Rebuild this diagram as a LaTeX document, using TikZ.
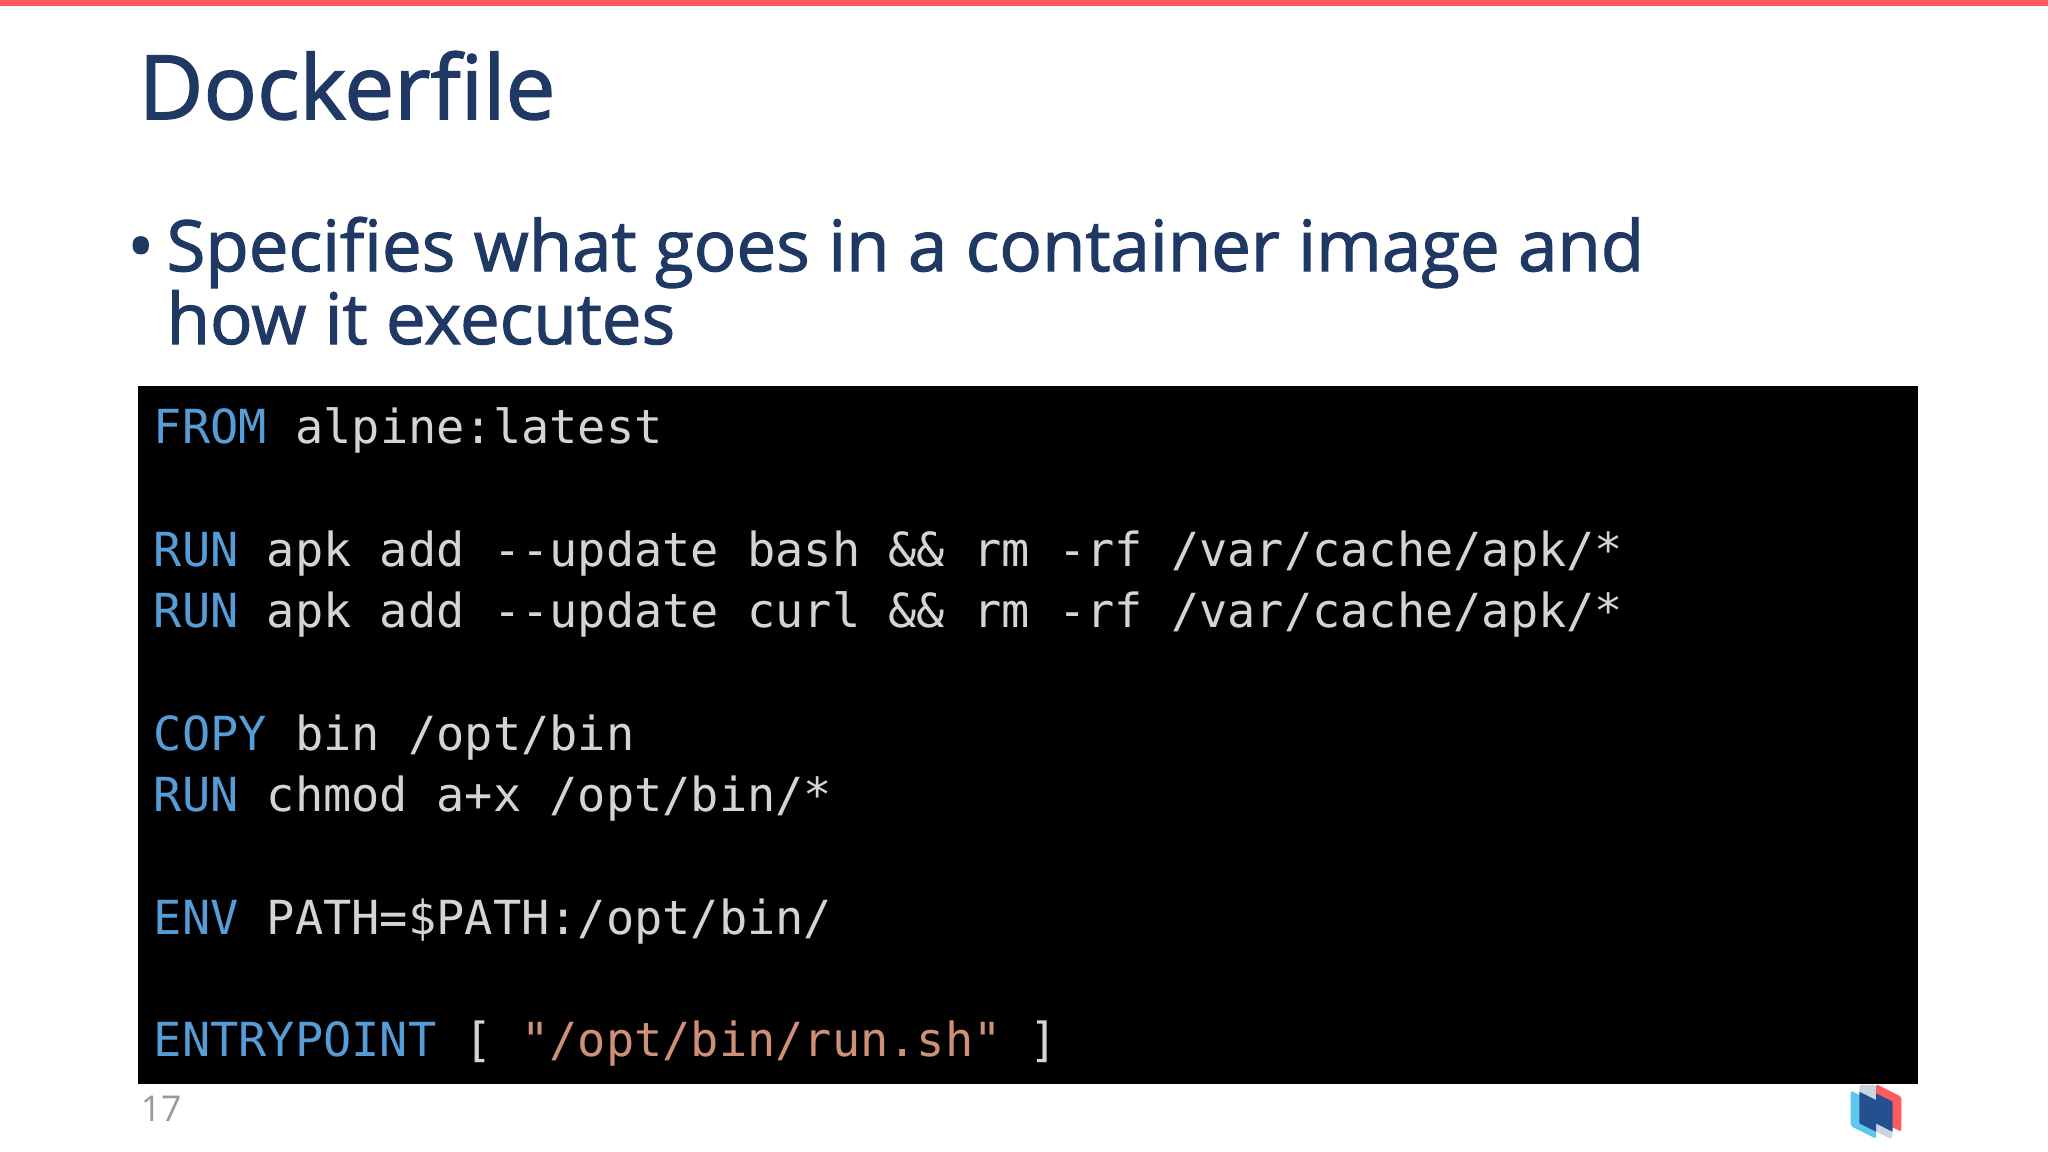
\documentclass[tikz,border=0pt]{standalone}
\usepackage{fontspec}
\setmainfont{Open Sans}
\newfontfamily\semifont{Open Sans}[FakeBold = 1.6]
\setmonofont{DejaVu Sans Mono}
\usepackage{xcolor}
\definecolor{titleblue}{HTML}{1F3864}
\definecolor{keyblue}{HTML}{569CD6}
\definecolor{codegrey}{HTML}{D4D4D4}
\definecolor{strorange}{HTML}{CE9178}
\definecolor{barred}{HTML}{FF5A5F}
\definecolor{logocyan}{HTML}{5CC8EE}
\definecolor{logodark}{HTML}{24508F}
\definecolor{logogrey}{HTML}{CBD5E0}
\tikzset{
	codeline/.style = {anchor = base west, inner sep = 0pt, text = codegrey, font = \ttfamily\fontsize{26.4pt}{30pt}\selectfont},
	slidetext/.style = {anchor = base west, inner sep = 0pt, text = titleblue, font = \semifont\fontsize{39.8pt}{44pt}\selectfont}
}
\newcommand{\kw}[1]{\textcolor{keyblue}{#1}}
\begin{document}
\begin{tikzpicture}[x = 1pt, y = -1pt]
	\useasboundingbox (0,0) rectangle (1152,648);
	\fill [white] (0,0) rectangle (1152,648);
	\fill [barred] (0,0) rectangle (1152,3.5);

	\node [slidetext, font = \semifont\fontsize{50pt}{56pt}\selectfont] (title) at (77.8,67) {Dockerfile};
	\node [slidetext] (bullet) at (71.5,152.5) {•};
	\node [slidetext] (lineone) at (93.5,152.5) {Specifies what goes in a container image and};
	\node [slidetext] (linetwo) at (93.5,193.5) {how it executes};

	\fill [black] (77.5,217) rectangle (1079,610);
	\node [codeline] (from) at (86.4,249.5) {\kw{FROM} alpine:latest};
	\node [codeline] (runa) at (86.4,318.5) {\kw{RUN} apk add -{}-update bash \&\& rm -rf /var/cache/apk/*};
	\node [codeline] (runb) at (86.4,353) {\kw{RUN} apk add -{}-update curl \&\& rm -rf /var/cache/apk/*};
	\node [codeline] (copy) at (86.4,422) {\kw{COPY} bin /opt/bin};
	\node [codeline] (runc) at (86.4,456.5) {\kw{RUN} chmod a+x /opt/bin/*};
	\node [codeline] (env) at (86.4,525.5) {\kw{ENV} PATH=\$PATH:/opt/bin/};
	\node [codeline] (entry) at (86.4,594.5) {\kw{ENTRYPOINT} [ \textcolor{strorange}{"/opt/bin/run.sh"} ]};

	\node [anchor = base west, inner sep = 0pt, text = gray!80, font = \fontsize{20pt}{24pt}\selectfont] (page) at (79,631) {17};

	% logo
	\fill [logogrey, rounded corners = 1pt] (1045.9,610.3) -- (1055.25,610.3) -- (1064.6,636.6) -- (1064.25,640.9) -- (1055.25,636.6) -- (1045.9,614.1) -- cycle;
	\fill [logocyan, rounded corners = 1pt] (1041,613.5) -- (1055.25,620.6) -- (1055.25,640.5) -- (1041,633.4) -- cycle;
	\fill [barred, rounded corners = 1pt] (1055.25,609.75) -- (1069.5,616.9) -- (1069.5,636.6) -- (1055.25,629.6) -- cycle;
	\fill [logodark] (1045.9,614.1) -- (1055.25,618.75) -- (1055.25,615) -- (1064.6,619.7) -- (1064.6,636.6) -- (1055.25,631.9) -- (1055.25,636.6) -- (1045.9,631.9) -- cycle;
\end{tikzpicture}
\end{document}
